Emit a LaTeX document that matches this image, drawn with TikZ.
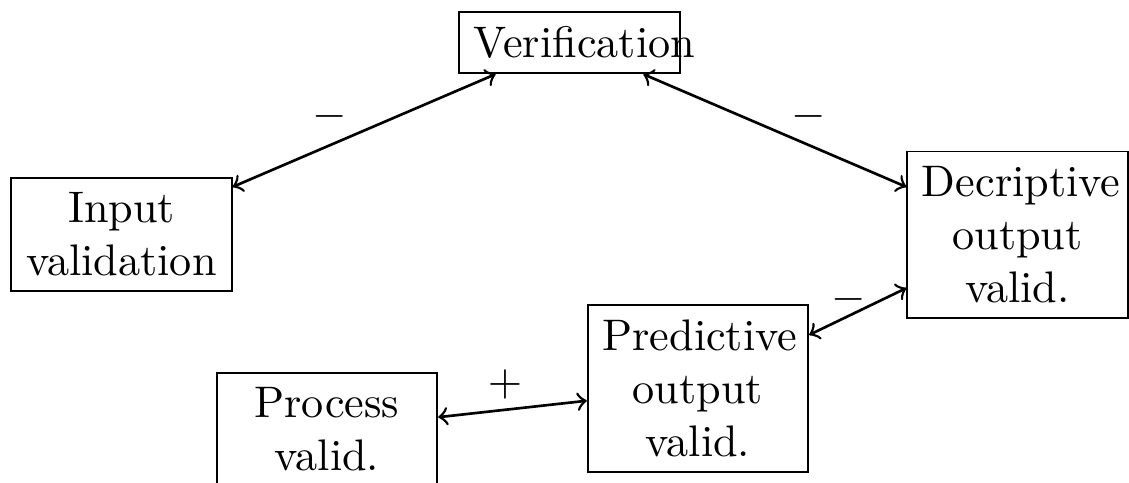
\documentclass[tikz,border=0pt]{standalone}
\newcommand{\boxw}{1.52cm}
\newcommand{\picw}{8.977}
\newcommand{\pich}{3.833}

\begin{document}
\begin{tikzpicture}[box/.style={draw, text width=\boxw, align=center}]
                    \useasboundingbox (0,0) rectangle (\picw,-\pich);
                    \node [box] (verif) at (4.528,-0.338) {Verification};
                    \node [box] (input) at (0.966,-1.865) {Input validation};
                    \node [box] (descr) at (8.091,-1.865) {Decriptive output valid.};
                    \node [box] (pred) at (5.550,-3.089) {Predictive output valid.};
                    \node [box] (proc) at (2.600,-3.415) {Process valid.};
                    \draw [semithick,<->] (input) -- node[pos=0.37, above=-0.5pt] {$-$} (verif);
                    \draw [semithick,<->] (verif) -- node[pos=0.63, above=-0.5pt] {$-$} (descr);
                    \draw [semithick,<->] (pred) -- node[near end, left] {$-$} (descr);
                    \draw [semithick,<->] (proc) -- node[pos=0.45, above=-1.3pt] {$+$} (pred);
                \end{tikzpicture}
\end{document}
